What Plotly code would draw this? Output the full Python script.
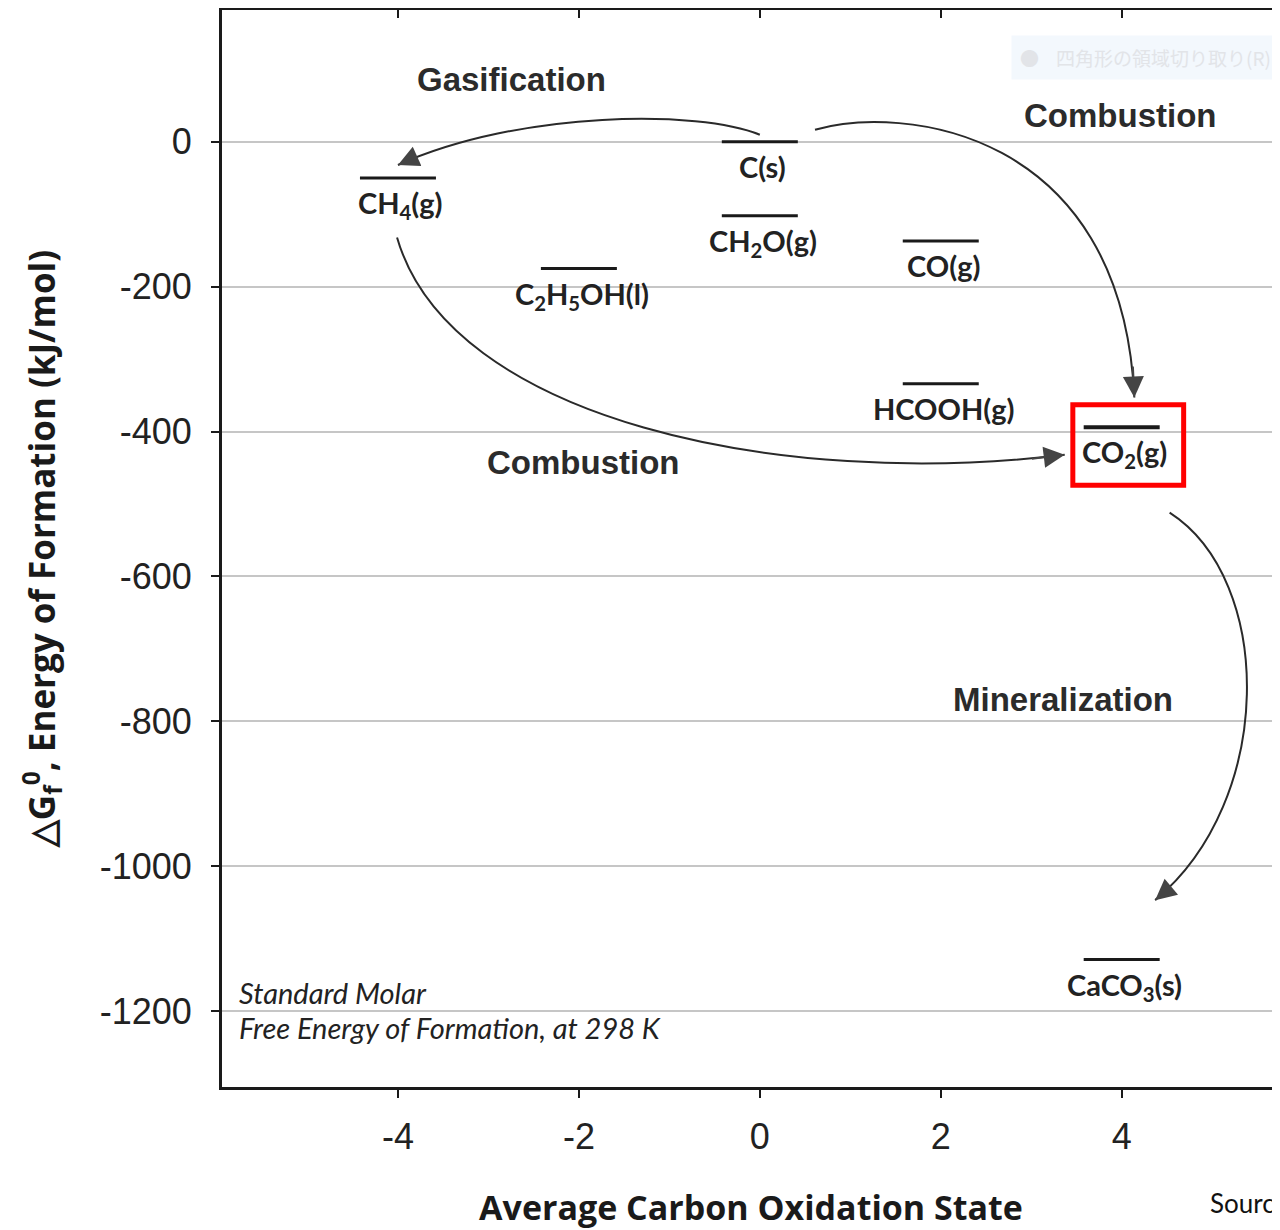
import plotly.graph_objects as go

# ---- data ----
species = ["CH<sub>4</sub>(g)", "C(s)", "CH<sub>2</sub>O(g)", "C<sub>2</sub>H<sub>5</sub>OH(l)",
           "CO(g)", "HCOOH(g)", "CO<sub>2</sub>(g)", "CaCO<sub>3</sub>(s)"]
ox_state = [-4, 0, 0, -2, 2, 2, 4, 4]
dGf = [-50, 0, -102, -175, -137, -334, -394, -1129]
bar_half = 0.42

x_ticks = [-4, -2, 0, 2, 4]
y_ticks = [0, -200, -400, -600, -800, -1000, -1200]
x_range = [-5.945, 5.75]
y_range = [-1305, 182]

# curved arrows: cubic Bezier control points (x, y) in data units
arrow_gas = [(0.0, 9.7), (-0.66, 44), (-2.65, 44), (-4.0, -32)]
arrow_comb_up = [(0.61, 16.6), (1.55, 51), (4.0, 20), (4.14, -353)]
arrow_comb_low = [(-4.01, -132), (-3.43, -384), (0.22, -480), (3.37, -432)]
arrow_mineral = [(4.53, -512), (5.69, -605), (5.70, -909), (4.37, -1047)]
arrows = [arrow_gas, arrow_comb_up, arrow_comb_low, arrow_mineral]

process_labels = ["Gasification", "Combustion", "Combustion", "Mineralization"]
process_x = [-2.74, 3.98, -1.96, 3.35]
process_y = [86, 37, -443, -770]

note_lines = ["<i>Standard Molar</i>", "<i>Free Energy of Formation, at 298 K</i>"]
note_y = [-1174, -1223]

co2_box = [3.46, 4.685, -363, -474]

fig = go.Figure()

# energy level bars
for sp, xv, yv in zip(species, ox_state, dGf):
    fig.add_trace(go.Scatter(
        x=[xv - bar_half, xv + bar_half], y=[yv, yv], mode="lines",
        line=dict(color="#1a1a1a", width=4 if "CO<sub>2</sub>" in sp else 3),
        showlegend=False, hoverinfo="skip"))

# dummy trace for top axis
fig.add_trace(go.Scatter(x=[0], y=[0], xaxis="x2", mode="markers",
                         marker=dict(opacity=0), showlegend=False, hoverinfo="skip"))

shapes = []
annotations = []
for pts in arrows:
    (x0, y0), (x1, y1), (x2, y2), (x3, y3) = pts
    shapes.append(dict(type="path", xref="x", yref="y",
                       path=f"M {x0},{y0} C {x1},{y1} {x2},{y2} {x3},{y3}",
                       line=dict(color="#2a2a2a", width=2)))
    tx = x3 - 0.12 * (x3 - x2)
    ty = y3 - 0.12 * (y3 - y2)
    annotations.append(dict(x=x3, y=y3, ax=tx, ay=ty, xref="x", yref="y",
                            axref="x", ayref="y", text="", showarrow=True,
                            arrowhead=2, arrowsize=2.1, arrowwidth=2,
                            arrowcolor="#444", standoff=0))

# red box around CO2
shapes.append(dict(type="rect", xref="x", yref="y",
                   x0=co2_box[0], x1=co2_box[1], y0=co2_box[2], y1=co2_box[3],
                   line=dict(color="#ff0000", width=5)))

# species labels
for sp, xv, yv in zip(species, ox_state, dGf):
    annotations.append(dict(x=xv, y=yv, xref="x", yref="y", text=sp,
                            showarrow=False, yanchor="top", yshift=-5, xshift=3,
                            font=dict(family="Lato", size=29, color="#222", weight="bold")))

for t, xv, yv in zip(process_labels, process_x, process_y):
    annotations.append(dict(x=xv, y=yv, xref="x", yref="y", text=t, showarrow=False,
                            font=dict(family="Liberation Sans", size=33, color="#2b2b2b",
                                      weight="bold")))

for t, yv in zip(note_lines, note_y):
    annotations.append(dict(x=-5.78, y=yv, xref="x", yref="y", xanchor="left",
                            text=t, showarrow=False,
                            font=dict(family="Lato", size=29, color="#222")))

annotations.append(dict(x=0.932, y=-0.108, xref="paper", yref="paper", showarrow=False,
                        text="Source", xanchor="left", yanchor="middle",
                        font=dict(family="Lato", size=26, color="#111")))

# faint tooltip artifact
annotations.append(dict(x=1, y=1, xref="paper", yref="paper", showarrow=False,
                        text="●    四角形の領域切り取り(R)", xanchor="right", yanchor="top",
                        yshift=-25, bgcolor="#f3f8fd", borderpad=8,
                        font=dict(family="Noto Sans CJK JP", size=19, color="#e2e4e8")))

fig.update_layout(
    width=1272, height=1222,
    margin=dict(l=214, r=0, t=2, b=143),
    paper_bgcolor="white", plot_bgcolor="white",
    shapes=shapes, annotations=annotations,
    xaxis=dict(range=x_range, tickvals=x_ticks, ticktext=[str(v) for v in x_ticks],
               showgrid=False, zeroline=False, showline=True, linecolor="#1a1a1a",
               linewidth=3, ticks="outside", ticklen=8, tickwidth=2, tickcolor="#1a1a1a",
               ticklabelstandoff=8,
               tickfont=dict(family="Liberation Sans", size=36, color="#222"),
               title=dict(text="<b>Average Carbon Oxidation State</b>", standoff=40,
                          font=dict(family="Open Sans", size=34, color="#1a1a1a"))),
    xaxis2=dict(range=x_range, tickvals=x_ticks, overlaying="x", side="top",
                showgrid=False, zeroline=False, showline=True, linecolor="#1a1a1a",
                linewidth=3, ticks="inside", ticklen=8, tickwidth=2, tickcolor="#1a1a1a",
                showticklabels=False),
    yaxis=dict(range=y_range, tickvals=y_ticks, ticktext=[str(v) for v in y_ticks],
               showgrid=True, gridcolor="#c6c6c6", gridwidth=2, zeroline=False,
               showline=True, linecolor="#1a1a1a", linewidth=3,
               ticks="outside", ticklen=8, tickwidth=2, tickcolor="#1a1a1a",
               ticklabelstandoff=12,
               tickfont=dict(family="Liberation Sans", size=36, color="#222"),
               title=dict(text="<b>△G<sub>f</sub><sup>0</sup>, Energy of Formation (kJ/mol)</b>",
                          standoff=34,
                          font=dict(family="Open Sans", size=35, color="#1a1a1a"))),
)

fig.write_html("out.html")
